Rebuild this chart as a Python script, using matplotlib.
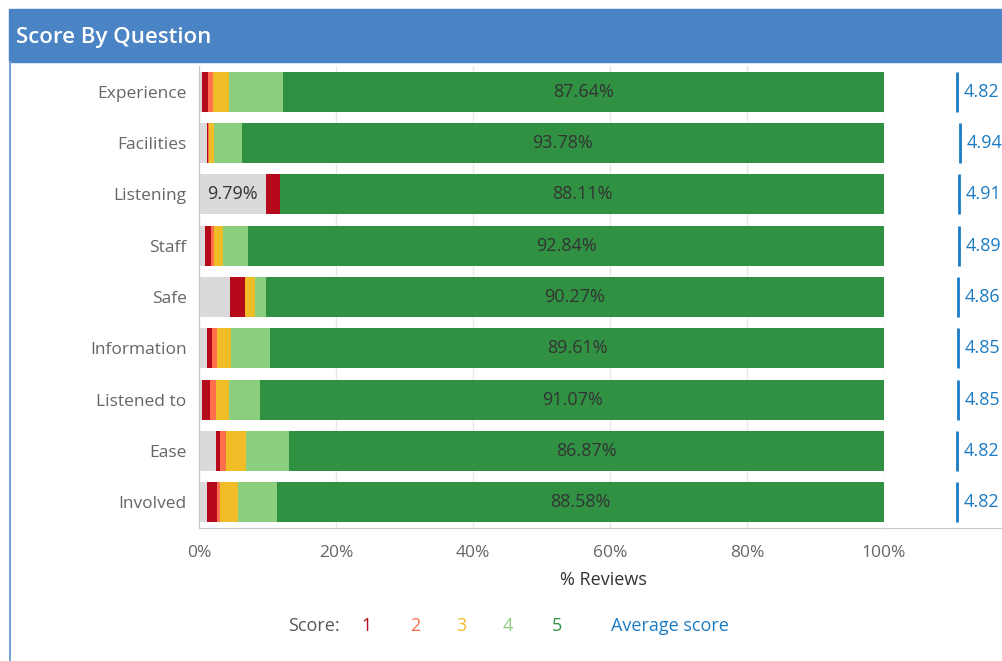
import matplotlib
matplotlib.use("Agg")
import matplotlib.pyplot as plt
from matplotlib.patches import Rectangle
import numpy as np

plt.rcParams['font.family'] = ['Open Sans', 'DejaVu Sans']

questions = ["Experience", "Facilities", "Listening", "Staff", "Safe",
             "Information", "Listened to", "Ease", "Involved"]
# percentage shares per score (no answer / 1 / 2 / 3 / 4 / 5)
no_score = [0.40, 1.10, 9.79, 0.88, 4.50, 1.12, 0.49, 2.44, 1.12]
score1 = [0.96, 0.25, 2.10, 0.88, 2.25, 0.83, 1.07, 0.68, 1.56]
score2 = [0.64, 0.15, 0.00, 0.49, 0.00, 0.73, 0.88, 0.88, 0.44]
score3 = [2.43, 0.65, 0.00, 1.32, 1.40, 1.95, 2.00, 2.88, 2.63]
score4 = [7.89, 4.07, 0.00, 3.59, 1.58, 5.76, 4.49, 6.25, 5.67]
score5 = [87.64, 93.78, 88.11, 92.84, 90.27, 89.61, 91.07, 86.87, 88.58]
avg_score = [4.82, 4.94, 4.91, 4.89, 4.86, 4.85, 4.85, 4.82, 4.82]
xticks = [0, 20, 40, 60, 80, 100]

colors = ["#DADADA", "#B60A1C", "#FF6F4D", "#F0BD27", "#8ACE7E", "#309143"]
series = [no_score, score1, score2, score3, score4, score5]
avg_color = "#1B7BC4"

W, H = 1002, 661
fig = plt.figure(figsize=(W / 100, H / 100), dpi=100)

# header
fig.patches.append(Rectangle((9 / W, 1 - 62 / H), (W - 9) / W, 53 / H,
                             transform=fig.transFigure, color="#4A84C4", zorder=0))
fig.text(16 / W, 1 - 37 / H, "Score By Question", color="white", fontsize=16,
         fontweight="semibold", va="center", ha="left")
fig.add_artist(plt.Line2D([9.5 / W, 9.5 / W], [0, 1 - 62 / H], color="#7AA3D6",
                          lw=1.5, transform=fig.transFigure))

ax = fig.add_axes([199 / W, 1 - 528 / H, 685 / W, 462 / H])
y = np.arange(len(questions))
left = np.zeros(len(questions))
for vals, col in zip(series, colors):
    vals = np.array(vals)
    ax.barh(y, vals, left=left, height=0.78, color=col, zorder=2)
    left += vals

for i in range(len(questions)):
    g_left = sum(s[i] for s in series[:5])
    ax.text(g_left + score5[i] / 2, y[i], f"{score5[i]:.2f}%", ha="center",
            va="center", fontsize=13, color="#333333", zorder=3)
    if no_score[i] > 8:
        ax.text(no_score[i] / 2, y[i], f"{no_score[i]:.2f}%", ha="center",
                va="center", fontsize=13, color="#333333", zorder=3)

ax.set_xlim(0, 100)
ax.set_ylim(len(questions) - 0.5, -0.5)
ax.set_yticks(y)
ax.set_yticklabels(questions, fontsize=12.5, color="#666666")
ax.set_xticks(xticks)
ax.set_xticklabels([f"{t}%" for t in xticks], fontsize=12.5, color="#666666")
ax.tick_params(axis="y", length=0, pad=9)
ax.tick_params(axis="x", length=0, pad=12)
ax.grid(axis="x", color="#E8E8E8", lw=1, zorder=0)
for s in ["top", "right"]:
    ax.spines[s].set_visible(False)
ax.spines["left"].set_color("#C8C8C8")
ax.spines["bottom"].set_color("#C8C8C8")
fig.text(603 / W, 1 - 580 / H, "% Reviews", fontsize=13, color="#333333",
         ha="center", va="center")

# average score axis
ax2 = fig.add_axes([884 / W, 1 - 528 / H, (W - 884) / W, 462 / H])
ax2.set_xlim(1.576, 6.82)
ax2.set_ylim(len(questions) - 0.5, -0.5)
ax2.vlines(avg_score, y - 0.39, y + 0.39, color=avg_color, lw=2)
for i, v in enumerate(avg_score):
    ax2.text(v + 0.3, y[i], f"{v:.2f}", color=avg_color, fontsize=13,
             va="center", ha="left", clip_on=False)
ax2.set_xticks([])
ax2.set_yticks([])
for s in ["top", "right", "left"]:
    ax2.spines[s].set_visible(False)
ax2.spines["bottom"].set_color("#C8C8C8")
ax2.patch.set_alpha(0)

# legend
ly = 1 - 626 / H
fig.text(288 / W, ly, "Score:", color="#555555", fontsize=13, va="center")
for lbl, xp, col in zip(["1", "2", "3", "4", "5"], [361, 410, 456, 503, 552], colors[1:]):
    fig.text(xp / W, ly, lbl, color=col, fontsize=13, va="center")
fig.text(611 / W, ly, "Average score", color=avg_color, fontsize=13, va="center")

fig.savefig("out.png", dpi=100)
